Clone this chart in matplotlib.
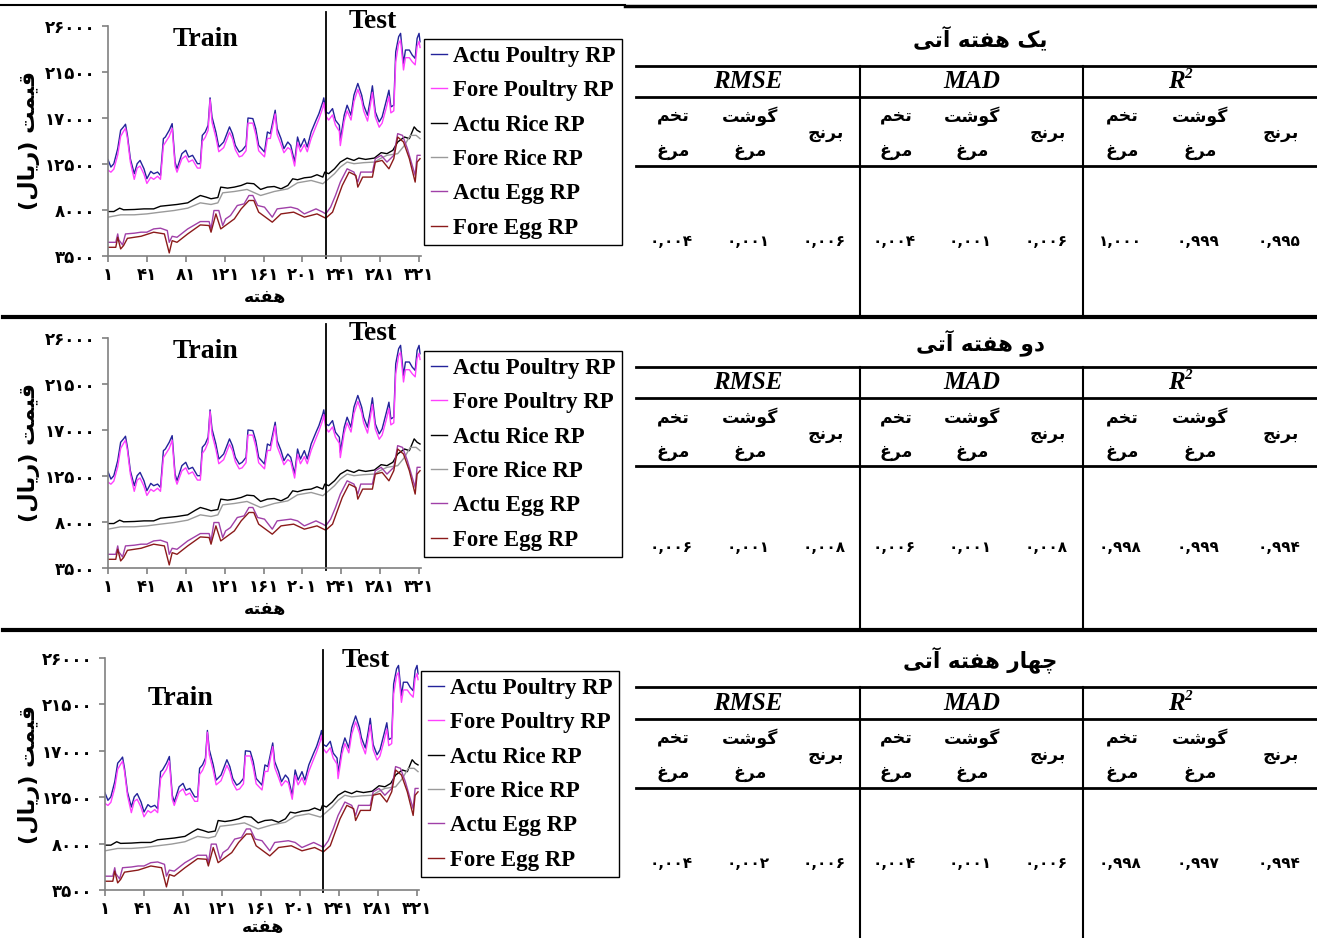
import matplotlib
matplotlib.use('Agg')
import matplotlib.pyplot as plt

# ---------------- data ----------------
x_ticks = [1, 41, 81, 121, 161, 201, 241, 281, 321]
y_ticks = [3500, 8000, 12500, 17000, 21500, 26000]
split_week = 225

weeks_poultry = [1, 4, 7, 11, 14, 17, 19, 21, 24, 28, 31, 34, 38, 41, 45, 48, 52, 55, 58, 60,
                 64, 67, 70, 72, 77, 81, 84, 88, 93, 96, 98, 101, 104, 106, 108, 112, 115, 120,
                 126, 129, 132, 136, 139, 143, 145, 150, 153, 156, 162, 165, 168, 173, 175, 179,
                 182, 186, 189, 193, 196, 199, 203, 206, 210, 215, 218, 222, 223, 225, 228, 232,
                 235, 239, 240, 244, 247, 251, 254, 258, 262, 264, 268, 271, 273, 276, 280, 283,
                 287, 290, 292, 295, 297, 300, 302, 305, 307, 311, 314, 317, 319, 321, 322]
actu_poultry = [12920, 12200, 12530, 14000, 15800, 16130, 16390, 15300, 13020, 11550, 12530, 12850,
                12030, 11060, 11780, 11550, 11710, 11380, 14980, 15140, 15800, 16450, 12690, 12030,
                13510, 13840, 13180, 13350, 12530, 12530, 15300, 15630, 16290, 18970, 17100, 15630,
                14160, 14650, 16130, 15470, 14320, 13670, 13840, 14320, 17000, 16940, 15960, 14320,
                13670, 15630, 15470, 17760, 15960, 14980, 14000, 14650, 14320, 12690, 15140, 14160,
                14980, 14160, 15630, 16780, 17430, 18580, 18970, 17600, 17430, 17920, 16780, 16290,
                14820, 17270, 18250, 17270, 19230, 20380, 19230, 18250, 17270, 18900, 20150, 17600,
                16620, 17100, 18580, 19720, 18090, 18250, 23480, 24950, 25280, 22340, 23650, 23650,
                23150, 22830, 24790, 25280, 24460]
fore_poultry = [11900, 11700, 12000, 13400, 15200, 15700, 16000, 15000, 12700, 11000, 12100, 12300,
                11500, 10600, 11200, 11000, 11300, 11000, 14300, 14600, 15200, 16000, 12300, 11700,
                13000, 13300, 12700, 12900, 12100, 12100, 14700, 15100, 15800, 18800, 16600, 15100,
                13700, 14100, 15600, 15000, 13900, 13200, 13300, 13800, 16500, 16500, 15400, 13800,
                13200, 15000, 15000, 17400, 15400, 14400, 13600, 14100, 13900, 12300, 14600, 13700,
                14400, 13700, 15000, 16200, 16900, 18000, 18500, 17200, 16800, 17300, 16300, 15700,
                14300, 16700, 17700, 16800, 18600, 19800, 18700, 17700, 16700, 18300, 19500, 17100,
                16100, 16500, 17900, 19100, 17500, 17700, 22500, 24300, 24600, 21700, 22900, 22900,
                22500, 22200, 24000, 24500, 23900]

weeks_rice_actu = [1, 7, 13, 17, 28, 38, 48, 55, 62, 72, 83, 91, 96, 102, 107, 114, 117, 124, 131,
                   138, 144, 151, 158, 165, 172, 179, 186, 191, 196, 203, 210, 216, 222, 224, 228,
                   234, 240, 247, 254, 259, 266, 275, 282, 288, 294, 299, 306, 311, 316, 319, 322]
actu_rice = [7850, 7850, 8180, 8020, 8050, 8110, 8110, 8370, 8440, 8540, 8700, 9160, 9420, 9260,
             9100, 9220, 10240, 10140, 10240, 10400, 10630, 10570, 10010, 10240, 10300, 10070,
             10400, 11050, 10960, 11150, 11220, 11450, 11220, 11710, 11550, 12030, 12690, 13080,
             12850, 13080, 12950, 13080, 13610, 13510, 13840, 14650, 15140, 14980, 16130, 15800, 15630]
weeks_rice_fore = [1, 14, 28, 41, 55, 69, 83, 96, 107, 114, 119, 131, 144, 158, 172, 186, 196, 210,
                   222, 228, 234, 240, 247, 254, 264, 275, 282, 288, 299, 306, 312, 318, 322]
fore_rice = [7300, 7530, 7530, 7620, 7790, 7950, 8180, 8700, 8540, 8700, 9680, 9810, 10010, 9420,
             9810, 10070, 10660, 10890, 10570, 11050, 11550, 12200, 12690, 12530, 12630, 12690,
             13080, 13350, 13510, 14320, 15300, 15300, 14980]

weeks_egg_actu = [1, 9, 11, 12, 16, 19, 28, 35, 41, 48, 55, 62, 64, 67, 72, 83, 96, 105, 107, 110,
                  115, 119, 122, 127, 134, 141, 146, 150, 155, 162, 170, 175, 189, 196, 203, 215,
                  222, 225, 230, 235, 240, 247, 254, 258, 261, 273, 276, 282, 288, 295, 299, 304,
                  309, 317, 319, 322]
actu_egg = [4840, 4840, 5660, 5100, 4580, 5660, 5730, 5830, 5830, 6150, 6220, 5990, 4840, 5430,
            5330, 6150, 6870, 6870, 6150, 7950, 7950, 6480, 7130, 7460, 8440, 8600, 9420, 9420,
            8440, 8280, 7300, 8110, 8280, 8110, 7620, 8110, 7790, 7620, 8280, 9420, 10730, 12030,
            11710, 10730, 11710, 11710, 13020, 13350, 12690, 13350, 15470, 15300, 14000, 11380,
            13350, 13350]
weeks_egg_fore = [1, 9, 11, 14, 17, 21, 35, 48, 59, 64, 67, 72, 83, 96, 105, 107, 112, 117, 124,
                  131, 138, 146, 151, 156, 170, 179, 192, 203, 216, 225, 232, 237, 242, 249, 256,
                  258, 263, 273, 276, 283, 290, 295, 299, 305, 311, 317, 319, 322]
fore_egg = [4350, 4350, 5330, 4190, 4520, 5230, 5430, 5830, 5660, 3800, 5000, 4840, 5660, 6540,
            6480, 5830, 7620, 6150, 6640, 7130, 8110, 8930, 8930, 7790, 6810, 7620, 7790, 7300,
            7620, 7200, 7790, 9100, 10400, 11710, 11380, 10240, 11220, 11220, 12690, 12850, 12030,
            13020, 15140, 14650, 13020, 10730, 12690, 13020]

series_labels = ['Actu Poultry RP', 'Fore Poultry RP', 'Actu Rice RP', 'Fore Rice RP',
                 'Actu Egg RP', 'Fore Egg RP']

horizons = ['یک هفته آتی', 'دو هفته آتی', 'چهار هفته آتی']
metrics = ['RMSE', 'MAD', 'R']
products_top = ['تخم', 'گوشت', '']
products_bottom = ['مرغ', 'مرغ', '']
product_single = ['', '', 'برنج']
rmse_vals = [[0.004, 0.001, 0.006], [0.006, 0.001, 0.008], [0.004, 0.002, 0.006]]
mad_vals = [[0.004, 0.001, 0.006], [0.006, 0.001, 0.008], [0.004, 0.001, 0.006]]
r2_vals = [[1.000, 0.999, 0.995], [0.998, 0.999, 0.994], [0.998, 0.997, 0.994]]

# ---------------- helpers ----------------
FORMS = {
    'ا': ('\uFE8D', '\uFE8E', None, None),
    'آ': ('\uFE81', '\uFE82', None, None),
    'ب': ('\uFE8F', '\uFE90', '\uFE91', '\uFE92'),
    'ت': ('\uFE95', '\uFE96', '\uFE97', '\uFE98'),
    'ج': ('\uFE9D', '\uFE9E', '\uFE9F', '\uFEA0'),
    'چ': ('\uFB7A', '\uFB7B', '\uFB7C', '\uFB7D'),
    'خ': ('\uFEA5', '\uFEA6', '\uFEA7', '\uFEA8'),
    'د': ('\uFEA9', '\uFEAA', None, None),
    'ر': ('\uFEAD', '\uFEAE', None, None),
    'ش': ('\uFEB5', '\uFEB6', '\uFEB7', '\uFEB8'),
    'غ': ('\uFECD', '\uFECE', '\uFECF', '\uFED0'),
    'ف': ('\uFED1', '\uFED2', '\uFED3', '\uFED4'),
    'ق': ('\uFED5', '\uFED6', '\uFED7', '\uFED8'),
    'ک': ('\uFB8E', '\uFB8F', '\uFB90', '\uFB91'),
    'گ': ('\uFB92', '\uFB93', '\uFB94', '\uFB95'),
    'ل': ('\uFEDD', '\uFEDE', '\uFEDF', '\uFEE0'),
    'م': ('\uFEE1', '\uFEE2', '\uFEE3', '\uFEE4'),
    'ن': ('\uFEE5', '\uFEE6', '\uFEE7', '\uFEE8'),
    'ه': ('\uFEE9', '\uFEEA', '\uFEEB', '\uFEEC'),
    'و': ('\uFEED', '\uFEEE', None, None),
    'ی': ('\uFBFC', '\uFBFD', '\uFBFE', '\uFBFF'),
}


def fa(s):
    out = []
    n = len(s)
    for i, c in enumerate(s):
        if c not in FORMS:
            out.append(c)
            continue
        f = FORMS[c]
        prev = s[i - 1] if i > 0 else ''
        nxt = s[i + 1] if i < n - 1 else ''
        jp = prev in FORMS and FORMS[prev][2] is not None
        jn = f[2] is not None and nxt in FORMS
        if jp and jn:
            g = f[3]
        elif jp:
            g = f[1]
        elif jn:
            g = f[2]
        else:
            g = f[0]
        out.append(g)
    vis = ''.join(reversed(out))
    return vis.translate(str.maketrans('()', ')('))


FA_DIG = str.maketrans('0123456789.', '۰۱۲۳۴۵۶۷۸۹,')


def fa_num(v, fmt='{}'):
    return fmt.format(v).translate(FA_DIG)


W, H = 1317, 938
fig = plt.figure(figsize=(W / 100, H / 100), dpi=100)
fig.patch.set_facecolor('white')


def px_rect(l, t, r, b):
    return [l / W, 1 - b / H, (r - l) / W, (b - t) / H]


ov = fig.add_axes([0, 0, 1, 1])
ov.set_xlim(0, W)
ov.set_ylim(H, 0)
ov.axis('off')

FA_FONT = 'DejaVu Sans'
SERIF = 'Liberation Serif'

C_AP = '#23239a'
C_FP = '#ff40ff'
C_AR = '#000000'
C_FR = '#9a9a9a'
C_AE = '#a040a8'
C_FE = '#8b1a1a'

charts = [
    dict(rect=(108, 26, 421, 256), train=(101, 24700), test=(273, 26400), vmax=1.06,
         legend=(424, 39), ylab=(29, 141), xlab=(265, 297)),
    dict(rect=(108, 338, 421, 568), train=(101, 24700), test=(273, 26400), vmax=1.06,
         legend=(424, 351), ylab=(29, 453), xlab=(265, 609)),
    dict(rect=(105, 658, 419, 890), train=(78, 22100), test=(268, 25800), vmax=1.035,
         legend=(421, 671), ylab=(29, 774), xlab=(263, 927)),
]

for ch in charts:
    ax = fig.add_axes(px_rect(*ch['rect']))
    ax.set_facecolor('none')
    ax.plot(weeks_poultry, actu_poultry, color=C_AP, lw=1.0, label=series_labels[0])
    ax.plot(weeks_poultry, fore_poultry, color=C_FP, lw=1.0, label=series_labels[1])
    ax.plot(weeks_rice_actu, actu_rice, color=C_AR, lw=1.0, label=series_labels[2])
    ax.plot(weeks_rice_fore, fore_rice, color=C_FR, lw=1.0, label=series_labels[3])
    ax.plot(weeks_egg_actu, actu_egg, color=C_AE, lw=1.0, label=series_labels[4])
    ax.plot(weeks_egg_fore, fore_egg, color=C_FE, lw=1.0, label=series_labels[5])
    ax.set_xlim(1, 323)
    ax.set_ylim(3500, 26000)
    ax.set_xticks(x_ticks)
    ax.set_xticklabels([fa_num(t) for t in x_ticks])
    ax.set_yticks(y_ticks)
    ax.set_yticklabels([fa_num(t) for t in y_ticks])
    for s in ['top', 'right']:
        ax.spines[s].set_visible(False)
    for s in ['left', 'bottom']:
        ax.spines[s].set_color('#808080')
        ax.spines[s].set_linewidth(1.2)
    ax.tick_params(color='#808080', length=4, width=1.2)
    ax.tick_params(axis='y', pad=5)
    ax.tick_params(axis='x', pad=3)
    for lab in ax.get_xticklabels() + ax.get_yticklabels():
        lab.set_fontweight('bold')
        lab.set_family(FA_FONT)
        lab.set_fontsize(12)
    ax.axvline(split_week, ymin=-0.01, ymax=ch['vmax'], color='black', lw=1.3, clip_on=False)
    ax.text(*ch['train'], 'Train', family=SERIF, weight='bold', size=20, ha='center', va='center')
    ax.text(*ch['test'], 'Test', family=SERIF, weight='bold', size=20, ha='center', va='center',
            clip_on=False)
    lx, ly = ch['legend']
    leg = ax.legend(loc='upper left', bbox_to_anchor=(lx / W, 1 - ly / H),
                    bbox_transform=fig.transFigure, borderaxespad=0,
                    prop={'family': SERIF, 'weight': 'bold', 'size': 16.5},
                    handlelength=0.7, handletextpad=0.25, borderpad=0.3, labelspacing=0.58,
                    fancybox=False, framealpha=1, edgecolor='black')
    leg.get_frame().set_linewidth(1.0)
    ov.text(*ch['ylab'], fa('قیمت (ریال)'), family=FA_FONT, weight='bold', size=16,
            rotation=90, ha='center', va='center')
    ov.text(*ch['xlab'], fa('هفته'), family=FA_FONT, weight='bold', size=12.5,
            ha='center', va='center')

# ---------------- table ----------------
rows = [
    dict(top=6, title=38, l1=66, l2=97, l3=166, bottom=317),
    dict(top=317, title=343, l1=367, l2=398, l3=466, bottom=630),
    dict(top=630, title=660, l1=687, l2=719, l3=788, bottom=938),
]
group_bounds = [636, 860, 1083, 1317]
col_x = [[673, 750, 826], [896, 972, 1048], [1122, 1200, 1281]]

ov.plot([0, 625], [5, 5], color='black', lw=1.5)
ov.plot([625, W], [6, 6], color='black', lw=2.5)
for yy in [317, 630]:
    ov.plot([3, W], [yy, yy], color='black', lw=3)

for k, r in enumerate(rows):
    ov.text(980, r['title'], fa(horizons[k]), family=FA_FONT, weight='bold', size=15.5,
            ha='center', va='center')
    for yy in [r['l1'], r['l2'], r['l3']]:
        ov.plot([636, W], [yy, yy], color='black', lw=2)
    for xx in group_bounds[1:3]:
        ov.plot([xx, xx], [r['l1'], r['bottom']], color='black', lw=1.5)
    hy = (r['l1'] + r['l2']) / 2
    vy = (r['l3'] + r['bottom']) / 2
    vals = [rmse_vals[k], mad_vals[k], r2_vals[k]]
    for g in range(3):
        gc = (group_bounds[g] + group_bounds[g + 1]) / 2 - 24 * (g == 2)
        ov.text(gc, hy, metrics[g], family=SERIF, weight='bold', style='italic', size=18,
                ha='center', va='center')
        if g == 2:
            ov.text(gc + 8, hy - 7, '2', family=SERIF, weight='bold', style='italic', size=11,
                    ha='left', va='center')
        for c in range(3):
            cx = col_x[g][c]
            if products_top[c]:
                ov.text(cx, r['l2'] + 19, fa(products_top[c]), family=FA_FONT, weight='bold',
                        size=12.5, ha='center', va='center')
                ov.text(cx, r['l2'] + 54, fa(products_bottom[c]), family=FA_FONT, weight='bold',
                        size=12.5, ha='center', va='center')
            else:
                ov.text(cx, r['l2'] + 36, fa(product_single[c]), family=FA_FONT, weight='bold',
                        size=12.5, ha='center', va='center')
            ov.text(cx - 2, vy, fa_num(vals[g][c], '{:.3f}'), family=FA_FONT, weight='bold',
                    size=11, ha='center', va='center')

fig.savefig('out.png', dpi=100, facecolor='white')
